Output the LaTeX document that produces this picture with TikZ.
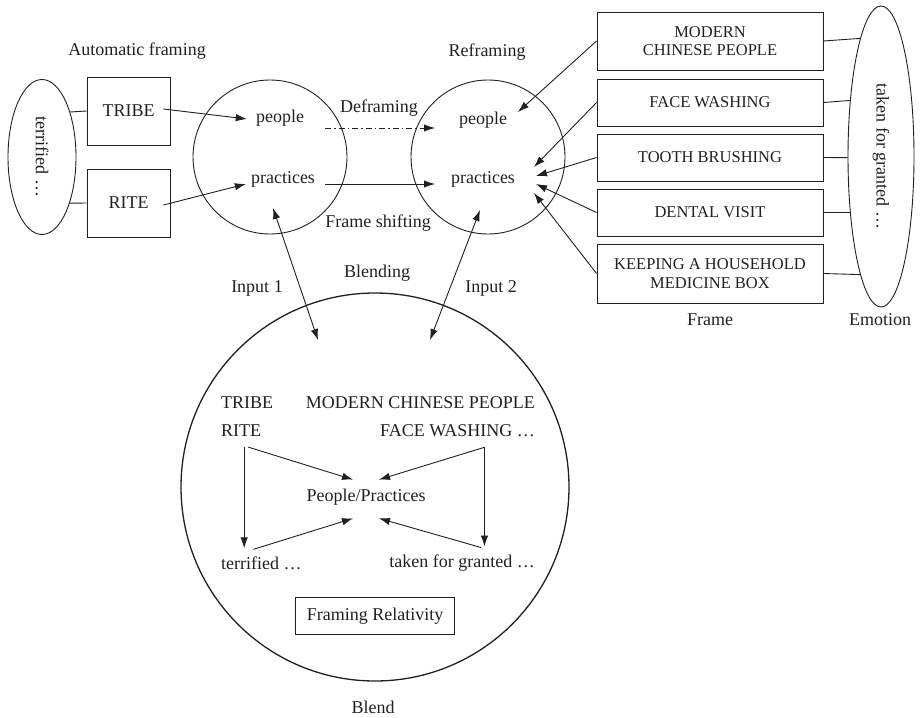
\documentclass[tikz,border=0pt]{standalone}
\usepackage{fontspec}
\setmainfont{Liberation Serif}
\usepackage{graphicx}
\usetikzlibrary{arrows.meta,shapes.geometric,calc}
\definecolor{ink}{RGB}{35,31,32}
\tikzset{
  lbl/.style={font=\fontsize{18}{20}\selectfont, text=ink, inner sep=2pt},
  inlbl/.style={lbl, inner sep=0pt},
  capbox/.style={draw=ink, line width=0.9pt, align=center, text=ink, font=\fontsize{16.5}{18.5}\selectfont, minimum width=226},
  sqbox/.style={draw=ink, line width=0.9pt, minimum width=83, minimum height=68},
  circ/.style={draw=ink, circle, line width=0.9pt, inner sep=0pt},
  ell/.style={draw=ink, ellipse, line width=0.9pt, inner sep=0pt, text=ink, font=\fontsize{18}{20}\selectfont},
  tip/.tip={Latex[length=11pt,width=7.5pt]},
  arr/.style={draw=ink, -tip, line width=0.9pt},
  darr/.style={draw=ink, tip-tip, line width=0.9pt},
  conn/.style={draw=ink, line width=0.9pt},
  dashdotline/.style={dash pattern=on 6pt off 3pt on 1.5pt off 3pt}
}
\begin{document}
\begin{tikzpicture}[x=1pt,y=-1pt]
\useasboundingbox (0,0) rectangle (920,717);

% top labels
\node[lbl] (autof) at (137,51) {Automatic framing};
\node[lbl] (refr) at (487,52) {Reframing};

% left ellipse and boxes
\node[ell, minimum width=68, minimum height=155] (lell) at (42,157) {\rotatebox{-90}{terrified \ldots}};
\node[sqbox] (tribebox) at (128.5,111) {};
\node[lbl] (tribe) at (tribebox.center) {TRIBE};
\node[sqbox] (ritebox) at (128.5,203) {};
\node[lbl] (rite) at (ritebox.center) {RITE};
\draw[conn] (tribebox.west) -- (lell.58.5);
\draw[conn] (ritebox.west) -- (lell.-59.3);

% left circle
\node[circ, minimum size=154] (lc) at (270,157) {};
\node[lbl] (lpeople) at (280,118) {people};
\node[lbl] (lprac) at (283,179) {practices};
\draw[arr] ($(tribebox.east)+(-7,-2)$) -- ($(lpeople.west)+(-7,1)$);
\draw[arr] ($(ritebox.east)+(-7,2)$) -- ($(lprac.west)+(-3,5)$);

% right circle
\node[circ, minimum size=154] (rc) at (488,157) {};
\node[lbl] (rpeople) at (483,120) {people};
\node[lbl] (rprac) at (483,179) {practices};

% deframing / frame shifting
\node[lbl] (defr) at (379,108) {Deframing};
\node[lbl] (fshift) at (378,223) {Frame shifting};
\draw[arr, dashdotline] ($(lc.center)+(55,-29)$) -- ($(rc.center)+(-53,-29)$);
\draw[arr] ($(lc.center)+(55,27)$) -- ($(rc.center)+(-53,27)$);

% right boxes
\node[capbox, minimum height=58] (b1) at (710,41) {MODERN\\CHINESE PEOPLE};
\node[capbox, minimum height=47] (b2) at (710,102.5) {FACE WASHING};
\node[capbox, minimum height=47] (b3) at (710,157.5) {TOOTH BRUSHING};
\node[capbox, minimum height=47] (b4) at (710,212.5) {DENTAL VISIT};
\node[capbox, minimum height=59] (b5) at (710,273.5) {KEEPING A HOUSEHOLD\\MEDICINE BOX};
\node[lbl] (framel) at (710,320) {Frame};
\node[lbl] (emol) at (880,320) {Emotion};

\node[ell, minimum width=66, minimum height=301] (rell) at (881,156.5) {\rotatebox{-90}{taken for granted \ldots}};
\draw[conn] (b1.east) -- (rell.100.45);
\draw[conn] (b2.east) -- (rell.119.9);
\draw[conn] (b3.east) -- (rell.182.6);
\draw[conn] (b4.east) -- (rell.241.6);
\draw[conn] (b5.east) -- (rell.260.1);

\draw[arr] (b1.west) -- ($(rc.center)+(30,-45)$);
\draw[arr] (b2.west) -- ($(rc.center)+(46,10)$);
\draw[arr] (b3.west) -- ($(rc.center)+(48,19)$);
\draw[arr] (b4.west) -- ($(rc.center)+(48,27)$);
\draw[arr] (b5.west) -- ($(rc.center)+(46,36)$);

% blend circle
\node[circ, minimum size=388, line width=1.3pt] (bc) at (375,487) {};
\node[lbl] (blending) at (377,273) {Blending};
\node[lbl] (in1) at (257,288) {Input 1};
\node[lbl] (in2) at (491,288) {Input 2};
\draw[darr] ($(lc.center)+(3,51)$) -- ($(bc.center)+(-57,-147)$);
\draw[darr] ($(rc.center)+(-8,53)$) -- ($(bc.center)+(55,-147)$);

\node[inlbl, anchor=west] (ttribe) at (221,403) {TRIBE};
\node[inlbl, anchor=west] (trite) at (221,431) {RITE};
\node[inlbl, anchor=east] (tmod) at (535,403) {MODERN CHINESE PEOPLE};
\node[inlbl, anchor=east] (tface) at (535,431) {FACE WASHING \ldots};
\node[lbl] (tpp) at (366,497) {People/Practices};
\node[inlbl, anchor=west] (tterr) at (221,563) {terrified \ldots};
\node[inlbl, anchor=east] (ttaken) at (535,563) {taken for granted \ldots};
\node[lbl, draw=ink, line width=0.9pt, minimum width=159, minimum height=37] (frel) at (375,616) {Framing Relativity};
\node[lbl] (blendl) at (373,707) {Blend};

\draw[arr] ($(trite.south)+(3,10)$) -- ($(trite.south |- tterr.north)+(3,-8)$);
\draw[arr] ($(trite.south)+(7,10)$) -- ($(tpp.north)+(-13,-7)$);
\draw[arr] ($(tterr.north)+(-8,-7)$) -- ($(tpp.south)+(-13,11)$);
\draw[arr] ($(tface.south)+(27,10)$) -- ($(tface.south |- ttaken.north)+(27,-8)$);
\draw[arr] ($(tface.south)+(27,10)$) -- ($(tpp.north)+(13,-7)$);
\draw[arr] ($(ttaken.north)+(19,-7)$) -- ($(tpp.south)+(13,11)$);
\end{tikzpicture}
\end{document}
